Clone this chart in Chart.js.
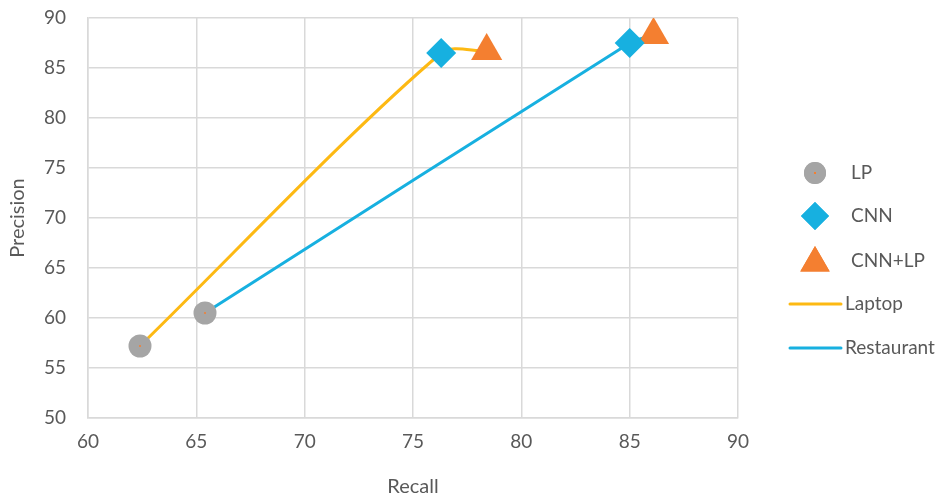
<!DOCTYPE html>
<html>
<head>
<meta charset="utf-8">
<script src="https://cdn.jsdelivr.net/npm/chart.js@4/dist/chart.umd.min.js"></script>
<style>
  html, body { margin: 0; padding: 0; background: #fff; }
  #wrap { width: 952px; height: 499px; }
</style>
</head>
<body>
<div id="wrap"><canvas id="chart"></canvas></div>
<script>
// values (x = recall, y = precision)
const lpPoints = [{ x: 62.4, y: 57.2 }, { x: 65.4, y: 60.5 }];
const cnnPoints = [{ x: 76.3, y: 86.5 }, { x: 85.0, y: 87.5 }];
const cnnLpPoints = [{ x: 78.4, y: 86.7 }, { x: 86.1, y: 88.3 }];
const laptopLine = [{ x: 62.4, y: 57.2 }, { x: 76.3, y: 86.5 }, { x: 78.4, y: 86.7 }];
const restaurantLine = [{ x: 65.4, y: 60.5 }, { x: 85.0, y: 87.5 }, { x: 86.1, y: 88.3 }];
const xTicks = [60, 65, 70, 75, 80, 85, 90];
const yTicks = [50, 55, 60, 65, 70, 75, 80, 85, 90];

const gray = '#595959';
const fontFamily = 'Lato, "Open Sans", sans-serif';

// legend entries: markers first, then lines
const legendItems = [
    { text: 'LP', kind: 'point', style: 'circle', color: '#a5a5a5', r: 11 },
    { text: 'CNN', kind: 'point', style: 'rectRot', color: '#17b0e0', r: 14 },
    { text: 'CNN+LP', kind: 'point', style: 'triangle', color: '#f47f30', r: 17 },
    { text: 'Laptop', kind: 'line', color: '#fdb913' },
    { text: 'Restaurant', kind: 'line', color: '#17b0e0' }
];

const sideLegend = {
    id: 'sideLegend',
    afterDraw(chart) {
        const ctx = chart.ctx;
        ctx.save();
        ctx.font = '19px ' + fontFamily;
        ctx.fillStyle = gray;
        ctx.textBaseline = 'middle';
        const rowY = [173, 216, 261, 304, 348];
        legendItems.forEach((item, i) => {
            const y = rowY[i];
            if (item.kind === 'point') {
                ctx.fillStyle = item.color;
                Chart.helpers.drawPoint(ctx, { pointStyle: item.style, radius: item.r, rotation: 0, borderWidth: 0 }, 815, item.style === 'triangle' ? y + 2 : y);
                ctx.fill();
                if (item.style === 'circle') {
                    ctx.fillStyle = '#f47f30';
                    ctx.fillRect(814, y - 1, 2, 2);
                }
                ctx.fillStyle = gray;
                ctx.fillText(item.text, 851, y);
            } else {
                ctx.strokeStyle = item.color;
                ctx.lineWidth = 3;
                ctx.lineCap = 'round';
                ctx.beginPath();
                ctx.moveTo(790, y);
                ctx.lineTo(841, y);
                ctx.stroke();
                ctx.fillStyle = gray;
                ctx.fillText(item.text, 845, y);
            }
        });
        ctx.restore();
    }
};

new Chart(document.querySelector('#chart').getContext('2d'), {
    type: 'scatter',
    data: {
        datasets: [
            {
                label: 'LP centre',
                data: lpPoints,
                pointStyle: 'circle',
                pointRadius: 1,
                pointBackgroundColor: '#f47f30',
                pointBorderWidth: 0,
                order: 0
            },
            {
                label: 'LP',
                data: lpPoints,
                pointStyle: 'circle',
                pointRadius: 11.5,
                pointBackgroundColor: '#a5a5a5',
                pointBorderWidth: 0,
                order: 1
            },
            {
                label: 'CNN',
                data: cnnPoints,
                pointStyle: 'rectRot',
                pointRadius: 15,
                pointBackgroundColor: '#17b0e0',
                pointBorderWidth: 0,
                order: 1
            },
            {
                label: 'CNN+LP',
                data: cnnLpPoints,
                pointStyle: 'triangle',
                pointRadius: 18,
                pointBackgroundColor: '#f47f30',
                pointBorderWidth: 0,
                order: 1
            },
            {
                label: 'Laptop',
                data: laptopLine,
                showLine: true,
                borderColor: '#fdb913',
                borderWidth: 3,
                pointRadius: 0,
                tension: 0.3,
                order: 5
            },
            {
                label: 'Restaurant',
                data: restaurantLine,
                showLine: true,
                borderColor: '#17b0e0',
                borderWidth: 3,
                pointRadius: 0,
                tension: 0.2,
                order: 5
            }
        ]
    },
    options: {
        responsive: true,
        maintainAspectRatio: false,
        animation: false,
        layout: { autoPadding: false, padding: { left: 6, right: 214, top: 0, bottom: 0 } },
        plugins: {
            legend: { display: false },
            tooltip: { enabled: false }
        },
        scales: {
            x: {
                type: 'linear',
                min: 60,
                max: 90,
                afterBuildTicks: axis => { axis.ticks = xTicks.map(v => ({ value: v })); },
                afterFit: axis => { axis.height = 81; },
                grid: { color: '#d9d9d9', lineWidth: 1.5, drawTicks: false },
                border: { color: '#d9d9d9', width: 1.5 },
                ticks: { color: gray, font: { family: fontFamily, size: 19 }, padding: 12 },
                title: { display: true, text: 'Recall', color: gray, font: { family: fontFamily, size: 20 }, padding: { top: 0, bottom: 0 } }
            },
            y: {
                type: 'linear',
                min: 50,
                max: 90,
                afterBuildTicks: axis => { axis.ticks = yTicks.map(v => ({ value: v })); },
                // tick padding is added to the top padding, so fix it here
                afterFit: axis => { axis.width = 82; axis.paddingTop = 18; axis.paddingBottom = 0; },
                grid: { color: '#d9d9d9', lineWidth: 1.5, drawTicks: false },
                border: { color: '#d9d9d9', width: 1.5 },
                ticks: { color: gray, font: { family: fontFamily, size: 19 }, padding: 22 },
                title: { display: true, text: 'Precision', color: gray, font: { family: fontFamily, size: 20 }, padding: { top: 0, bottom: 0 } }
            }
        }
    },
    plugins: [sideLegend]
});
</script>
</body>
</html>
